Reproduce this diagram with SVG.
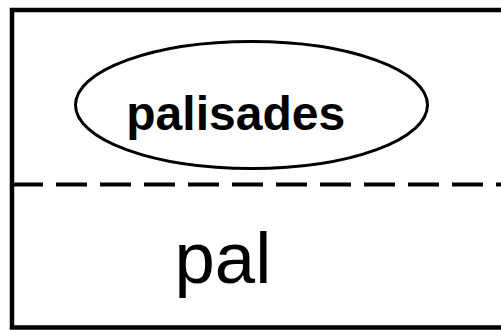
<svg xmlns="http://www.w3.org/2000/svg" width="501" height="330" viewBox="0 0 501 330">
<style>
.frame{fill:none;stroke:#000;stroke-width:4.5}
.sep{stroke:#000;stroke-width:4;stroke-dasharray:31 13}
.oval{fill:#fff;stroke:#000;stroke-width:3}
.t{font-family:"Liberation Sans",Arial,sans-serif;fill:#000}
</style>
<rect width="501" height="330" fill="#fff"/>
<g id="frame">
<path class="frame" d="M510 10 H12 V327.5 H510"/>
</g>
<g id="connectors">
<line class="sep" x1="12" y1="184.5" x2="510" y2="184.5"/>
</g>
<g id="node-palisades">
<ellipse class="oval" cx="251.5" cy="105" rx="176" ry="63.5"/>
<text class="t" x="126.3" y="129.5" font-size="48" font-weight="bold">palisades</text>
</g>
<g id="label-pal">
<text class="t" x="174.5" y="282.7" font-size="72.5">pal</text>
</g>
</svg>
